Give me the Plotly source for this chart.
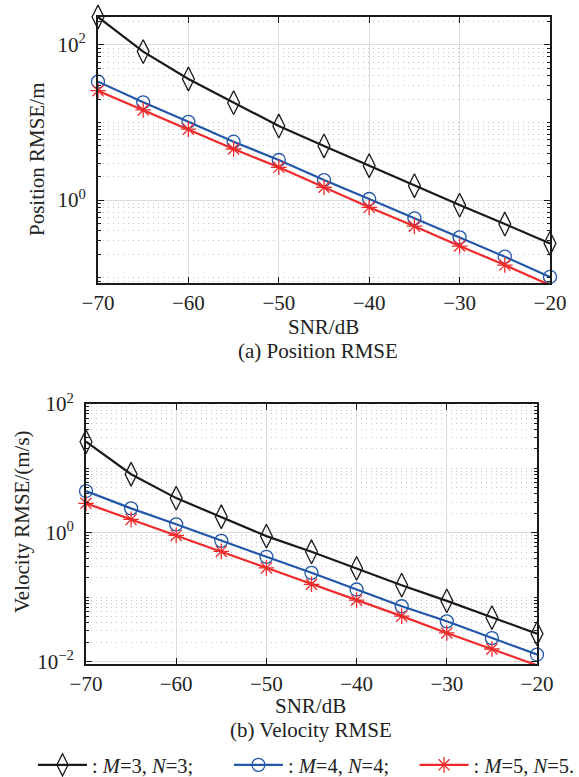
import plotly.graph_objects as go

snr = [-70, -65, -60, -55, -50, -45, -40, -35, -30, -25, -20]

pos_m3 = [229, 82, 36.4, 18.0, 9.0, 4.98, 2.77, 1.53, 0.86, 0.49, 0.276]
pos_m4 = [33.6, 18.2, 10.2, 5.65, 3.28, 1.81, 1.03, 0.58, 0.33, 0.186, 0.102]
pos_m5 = [25.7, 14.5, 8.2, 4.55, 2.64, 1.46, 0.805, 0.46, 0.255, 0.145, 0.080]

vel_m3 = [25.9, 8.1, 3.45, 1.77, 0.885, 0.505, 0.279, 0.153, 0.0873, 0.048, 0.027]
vel_m4 = [4.44, 2.39, 1.35, 0.748, 0.422, 0.238, 0.131, 0.072, 0.042, 0.023, 0.0128]
vel_m5 = [2.86, 1.61, 0.908, 0.512, 0.284, 0.158, 0.0895, 0.0505, 0.0277, 0.0156, 0.0087]

x_ticks = [-70, -60, -50, -40, -30, -20]
x_ticktext = ["\u221270", "\u221260", "\u221250", "\u221240", "\u221230", "\u221220"]
pos_yticks = [1, 100]
pos_yticktext = ["10<sup>0</sup>", "10<sup>2</sup>"]
vel_yticks = [0.01, 1, 100]
vel_yticktext = ["10<sup>\u22122</sup>", "10<sup>0</sup>", "10<sup>2</sup>"]

names = [": <i>M</i>=3, <i>N</i>=3;\u2003\u2002",
         ": <i>M</i>=4, <i>N</i>=4;\u2003",
         ": <i>M</i>=5, <i>N</i>=5."]
colors = ["#1a1a1a", "#2256a8", "#ee2a2a"]
symbols = ["diamond-tall-open", "circle-open", "asterisk-open"]
sizes = [17, 13, 13]

FONT = "Liberation Serif"
W, H = 579, 777

fig = go.Figure()
for i, (yp, yv) in enumerate([(pos_m3, vel_m3), (pos_m4, vel_m4), (pos_m5, vel_m5)]):
    mk = dict(symbol=symbols[i], size=sizes[i], color=colors[i], line=dict(width=1.3, color=colors[i]))
    fig.add_trace(go.Scatter(x=snr, y=yp, mode="lines+markers", name=names[i],
                             line=dict(color=colors[i], width=2.2), marker=mk,
                             xaxis="x", yaxis="y", showlegend=True, cliponaxis=False))
    fig.add_trace(go.Scatter(x=snr, y=yv, mode="lines+markers", name=names[i],
                             line=dict(color=colors[i], width=2.2), marker=mk,
                             xaxis="x2", yaxis="y2", showlegend=False, cliponaxis=False))

def px_x(p):
    return p / W

def px_y(p):
    return 1 - p / H

tickfont = dict(family=FONT, size=21, color="#222")
common_x = dict(range=[-70, -20], tickvals=x_ticks, ticktext=x_ticktext,
                showline=True, linecolor="#1a1a1a", linewidth=2, mirror="ticks",
                ticks="inside", ticklen=6, tickcolor="#1a1a1a", tickwidth=1,
                showgrid=True, gridcolor="#dcdcdc", gridwidth=1.2, zeroline=False,
                tickfont=tickfont, automargin=False)
common_y = dict(type="log", showline=True, linecolor="#1a1a1a", linewidth=2, mirror="ticks",
                ticks="inside", ticklen=6, tickcolor="#1a1a1a", tickwidth=1,
                showgrid=True, gridcolor="#dcdcdc", gridwidth=1.2, zeroline=False,
                tickmode="array", tickfont=tickfont, automargin=False, ticklabelstandoff=6,
                minor=dict(dtick="D1", ticks="inside", ticklen=3, tickcolor="#1a1a1a",
                           showgrid=True, gridcolor="#c4c4c4", griddash="1px,4px", gridwidth=1))

fig.update_layout(
    template="none",
    width=W, height=H, margin=dict(l=0, r=0, t=0, b=0, autoexpand=False),
    paper_bgcolor="white", plot_bgcolor="white",
    font=dict(family=FONT, size=21, color="#222"),
    xaxis=dict(domain=[px_x(98), px_x(550)], anchor="y", **common_x),
    yaxis=dict(domain=[px_y(283), px_y(17)], anchor="x", range=[-1.07, 2.36],
               tickvals=pos_yticks, ticktext=pos_yticktext, **common_y),
    xaxis2=dict(domain=[px_x(86), px_x(537)], anchor="y2", **common_x),
    yaxis2=dict(domain=[px_y(664), px_y(404)], anchor="x2", range=[-2.04, 2.0],
                tickvals=vel_yticks, ticktext=vel_yticktext, **common_y),
    legend=dict(orientation="h", x=px_x(33), y=px_y(765), yanchor="middle", xanchor="left",
                font=dict(family=FONT, size=20.5, color="#222"), bgcolor="rgba(0,0,0,0)",
                itemwidth=49, tracegroupgap=0),
    showlegend=True,
)

annots = [
    dict(text="SNR/dB", x=px_x(323), y=px_y(327)),
    dict(text="(a) Position RMSE", x=px_x(318), y=px_y(351)),
    dict(text="SNR/dB", x=px_x(311), y=px_y(706)),
    dict(text="(b) Velocity RMSE", x=px_x(311), y=px_y(730)),
    dict(text="Position RMSE/m", x=px_x(37), y=px_y(160), textangle=-90),
    dict(text="Velocity RMSE/(m/s)", x=px_x(22), y=px_y(522), textangle=-90),
]
for a in annots:
    fig.add_annotation(xref="paper", yref="paper", showarrow=False,
                       xanchor="center", yanchor="middle",
                       font=dict(family=FONT, size=21, color="#222"), **a)

fig.write_html("out.html")
